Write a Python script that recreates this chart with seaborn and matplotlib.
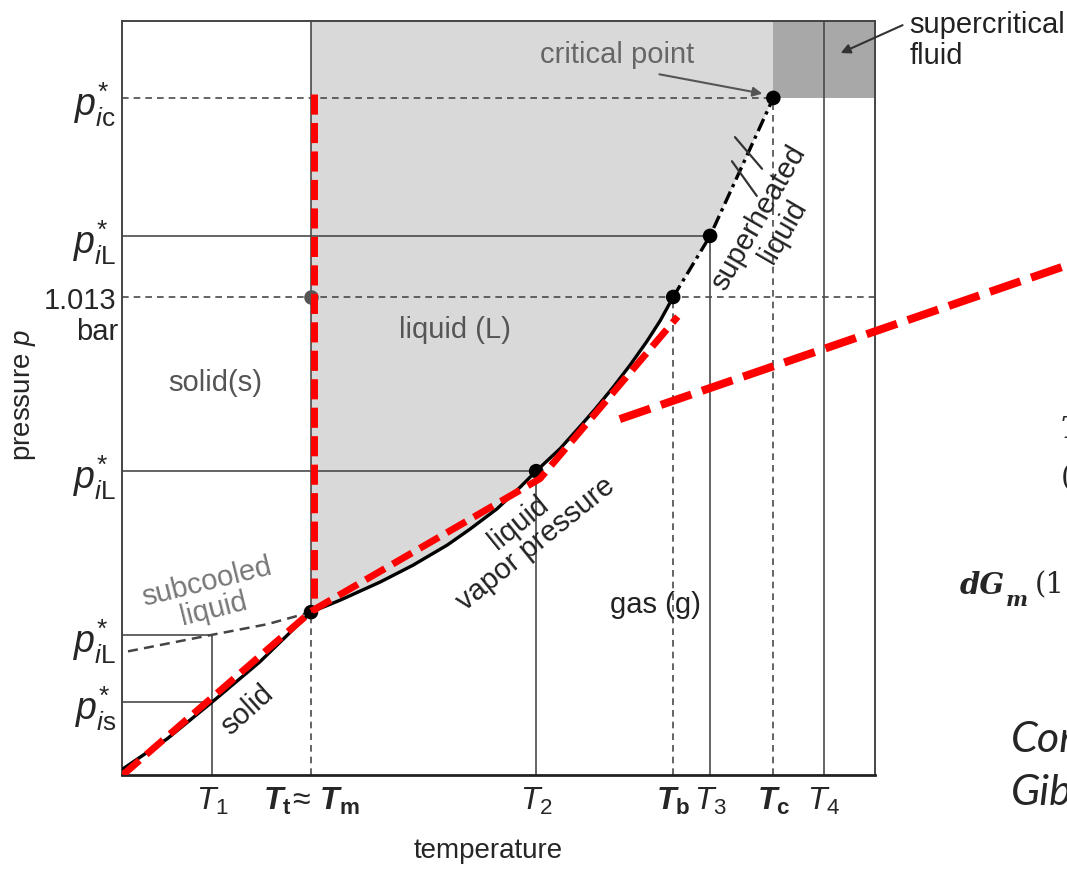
import matplotlib
matplotlib.use("Agg")
import matplotlib.pyplot as plt
import seaborn as sns
import pandas as pd

# --- data (temperature / pressure in arbitrary 0-100 units of the diagram) ---
T_ticks = [12.0, 25.1, 55.0, 73.2, 78.1, 86.5, 93.2]
T_labels = [r"$T_1$", r"$\mathbfit{T}_{\mathbf{t}}\!\approx\,\mathbfit{T}_{\mathbf{m}}$", r"$T_2$",
            r"$\mathbfit{T}_{\mathbf{b}}$", r"$T_3$", r"$\mathbfit{T}_{\mathbf{c}}$", r"$T_4$"]
p_ticks = [89.8, 71.5, 63.4, 40.3, 18.6, 9.7]
p_labels = [r"$p^{*}_{i\mathrm{c}}$", r"$p^{*}_{i\mathrm{L}}$", "1.013",
            r"$p^{*}_{i\mathrm{L}}$", r"$p^{*}_{i\mathrm{L}}$", r"$p^{*}_{i\mathrm{s}}$"]

T1, Tm, T2, Tb, T3, Tc, T4 = T_ticks
p_c, p_L3, p_atm, p_L2, p_L1, p_s1 = p_ticks
p_triple = 21.6

# liquid vapor pressure curve
vap_T = [25.1, 29.0, 34.3, 38.6, 43.2, 46.2, 49.8, 52.9, 55.0, 58.2, 60.8, 62.9, 65.2,
         67.5, 69.7, 71.5, 73.2]
vap_p = [21.6, 23.2, 25.6, 27.8, 30.5, 32.6, 35.3, 38.2, 40.3, 43.3, 46.2, 48.6, 51.4,
         54.4, 57.5, 60.3, 63.4]
# superheated part up to the critical point
sh_T = [73.2, 78.1, 86.5]
sh_p = [63.4, 71.5, 89.8]
# solid vapor pressure (sublimation)
sub_T = [0.1, 6.0, 12.0, 18.3, 25.1]
sub_p = [0.8, 4.8, 9.7, 15.0, 21.6]
# subcooled liquid
sc_T = [0.8, 12.0, 19.3, 25.1]
sc_p = [16.4, 18.6, 20.0, 21.6]
# red overlay lines
red_melt_T = [25.45, 25.45]
red_melt_p = [90.3, 21.6]
red_fit_T = [0.1, 25.2, 55.5, 73.8]
red_fit_p = [0.0, 21.75, 39.3, 60.8]
red_long_T = [66.1, 125.5]
red_long_p = [47.2, 67.6]
# slash marks on superheated branch
slash1_T = [81.4, 85.0]
slash1_p = [84.6, 80.4]
slash2_T = [81.0, 84.3]
slash2_p = [81.4, 76.8]

sns.set_theme(style="white")
plt.rcParams["font.family"] = ["Liberation Sans", "DejaVu Sans"]
plt.rcParams["mathtext.fontset"] = "custom"
plt.rcParams["mathtext.rm"] = "Liberation Sans"
plt.rcParams["mathtext.it"] = "Liberation Sans:italic"
plt.rcParams["mathtext.bf"] = "Liberation Sans:bold"
plt.rcParams["mathtext.bfit"] = "Liberation Sans:italic:bold"

fig = plt.figure(figsize=(10.67, 8.7), dpi=100)
ax = fig.add_axes([122 / 1067, 94 / 870, 753 / 1067, 754 / 870])
ax.set_xlim(0, 100)
ax.set_ylim(0, 100)

grid = "#4a4a4a"

# shaded regions
ax.fill([Tm] + vap_T + sh_T[1:] + [Tc, Tm], [100] + vap_p + sh_p[1:] + [100, 100],
        color="#d9d9d9", lw=0, zorder=0)
ax.fill([Tc, 100, 100, Tc], [p_c, p_c, 100, 100], color="#a8a8a8", lw=0, zorder=0)

# helper lines
solid_kw = dict(color=grid, lw=1.2, zorder=1)
dash_kw = dict(color=grid, lw=1.2, ls=(0, (4, 3)), zorder=1)
ax.plot([Tm, Tm], [p_triple, 100], **solid_kw)
ax.plot([Tm, Tm], [0, p_triple], **dash_kw)
ax.plot([T1, T1], [0, p_L1], **solid_kw)
ax.plot([0, T1], [p_L1, p_L1], **solid_kw)
ax.plot([0, T1], [p_s1, p_s1], **solid_kw)
ax.plot([T2, T2], [0, p_L2], **solid_kw)
ax.plot([0, T2], [p_L2, p_L2], **solid_kw)
ax.plot([Tb, Tb], [0, p_atm], **dash_kw)
ax.plot([0, 100], [p_atm, p_atm], **dash_kw)
ax.plot([T3, T3], [0, p_L3], **solid_kw)
ax.plot([0, T3], [p_L3, p_L3], **solid_kw)
ax.plot([Tc, Tc], [0, p_c], **dash_kw)
ax.plot([0, Tc], [p_c, p_c], **dash_kw)
ax.plot([T4, T4], [0, 100], **solid_kw)

# phase curves
sns.lineplot(x=vap_T, y=vap_p, sort=False, color="black", lw=2.4, ax=ax, zorder=3)
sns.lineplot(x=sub_T, y=sub_p, sort=False, color="black", lw=2.4, ax=ax, zorder=3)
ax.plot(sh_T, sh_p, color="black", lw=2.4, ls=(0, (4, 1.5, 1, 1.5)), zorder=3)
ax.plot(sc_T, sc_p, color="#444444", lw=1.8, ls=(0, (4, 2.5)), zorder=3)
ax.plot(slash1_T, slash1_p, color="#333333", lw=1.6, zorder=3)
ax.plot(slash2_T, slash2_p, color="#333333", lw=1.6, zorder=3)

pts = pd.DataFrame({"T": [Tm, T2, Tb, T3, Tc], "p": [p_triple, p_L2, p_atm, p_L3, p_c]})
sns.scatterplot(data=pts, x="T", y="p", color="black", s=110, edgecolor="none", ax=ax, zorder=5)
ax.scatter([Tm], [p_atm], color="#555555", s=90, zorder=5)

# red overlay
ax.plot(red_melt_T, red_melt_p, color="#ff0000", lw=5, ls=(0, (2.9, 1.2)), zorder=6)
ax.plot(red_fit_T, red_fit_p, color="#ff0000", lw=5, ls=(0, (3.2, 1.3)), zorder=6)
ax.plot(red_long_T, red_long_p, color="#ff0000", lw=5.8, ls=(0, (4, 1.4)), zorder=6,
        clip_on=False)

# labels in the diagram
fs = 21
ax.text(65.7, 95.6, "critical point", color="#666666", fontsize=fs, ha="center", va="center")
ax.annotate("", xy=(85.4, 90.3), xytext=(71.0, 93.0),
            arrowprops=dict(arrowstyle="-|>", color="#555555", lw=1.5, mutation_scale=14))
ax.text(104.6, 101.4, "supercritical\nfluid", fontsize=fs, ha="left", va="top",
        linespacing=1.12, color="#222222")
ax.annotate("", xy=(95.1, 95.6), xytext=(104.0, 99.6), annotation_clip=False,
            arrowprops=dict(arrowstyle="-|>", color="#333333", lw=1.5, mutation_scale=14))
ax.text(44.2, 59.2, "liquid (L)", color="#555555", fontsize=fs, ha="center", va="center")
ax.text(12.4, 52.1, "solid(s)", color="#555555", fontsize=fs, ha="center", va="center")
ax.text(11.7, 23.9, "subcooled\nliquid", color="#777777", fontsize=fs, ha="center",
        va="center", rotation=14, rotation_mode="anchor", linespacing=1.0)
ax.text(16.6, 8.75, "solid", color="#222222", fontsize=fs, ha="center", va="center",
        rotation=42, rotation_mode="anchor")
ax.text(53.8, 32.2, "liquid\nvapor pressure", color="#222222", fontsize=fs, ha="center",
        va="center", rotation=39, rotation_mode="anchor", linespacing=1.0)
ax.text(70.8, 22.7, "gas (g)", color="#222222", fontsize=fs, ha="center", va="center")
ax.text(86.1, 73.1, "superheated\nliquid", color="#222222", fontsize=fs, ha="center",
        va="center", rotation=60, rotation_mode="anchor", linespacing=1.0)

# axes
ax.set_xticks(T_ticks, T_labels, fontsize=23)
ax.set_yticks(p_ticks, p_labels, fontsize=27)
for lab in ax.get_yticklabels():
    if lab.get_text() == "1.013":
        lab.set_fontsize(21)
ax.tick_params(length=0, pad=4)
ax.tick_params(axis="x", pad=7)
ax.text(-0.5, 58.9, "bar", fontsize=21, ha="right", va="center")
ax.set_xlabel("temperature", fontsize=20)
ax.xaxis.set_label_coords(0.486, -0.082)
ax.set_ylabel(r"pressure $p$", fontsize=20)
ax.yaxis.set_label_coords(-0.112, 0.505)
for s in ax.spines.values():
    s.set_color("#444444")
    s.set_linewidth(1.4)
ax.spines["bottom"].set_color("#222222")
ax.spines["bottom"].set_linewidth(2)

# slide text cut off at the right border
ax.text(111.3, 25.3, "dG", fontsize=21, family="DejaVu Serif", style="italic",
        weight="bold", ha="left", va="center")
ax.text(117.4, 23.3, "m", fontsize=15, family="DejaVu Serif", style="italic",
        weight="bold", ha="left", va="center")
ax.text(121.2, 25.3, "(1", fontsize=21, family="DejaVu Serif", ha="left", va="center")
ax.text(124.7, 45.9, "T", fontsize=21, family="DejaVu Serif", style="italic", ha="left", va="center")
ax.text(124.7, 39.5, "(", fontsize=21, family="DejaVu Serif", ha="left", va="center")
ax.text(118.1, 4.8, "Consider", fontsize=31, family="Lato", style="italic", ha="left", va="center")
ax.text(118.1, -2.2, "Gibbs", fontsize=31, family="Lato", style="italic", ha="left", va="center")

fig.savefig("out.png", dpi=100, facecolor="white")
